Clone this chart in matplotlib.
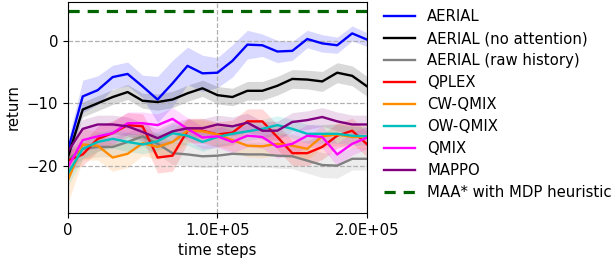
import numpy as np
import matplotlib
matplotlib.use("Agg")
import matplotlib.pyplot as plt
from matplotlib.ticker import FuncFormatter

steps = [i * 10000 for i in range(21)]

aerial = [-17.6, -8.9, -7.9, -5.8, -5.3, -7.3, -9.4, -6.8, -4.0, -5.2, -5.1,
          -3.2, -0.6, -0.7, -1.7, -1.6, 0.3, -0.4, -0.7, 1.2, 0.2]
aerial_sd = [1.5, 2.6, 2.3, 1.9, 1.9, 1.8, 3.7, 3.7, 3.0, 2.9, 2.4,
             2.6, 2.3, 1.8, 1.8, 1.5, 1.4, 1.4, 1.3, 1.2, 1.1]
noatt = [-18.7, -11.0, -10.0, -9.0, -8.2, -9.6, -9.8, -9.4, -8.4, -7.6, -8.7,
         -9.0, -8.0, -8.0, -7.2, -6.1, -6.2, -6.5, -5.1, -5.6, -7.3]
noatt_sd = [1.0, 1.2, 1.2, 1.2, 1.2, 1.2, 1.3, 1.3, 1.3, 1.3, 1.4,
            1.4, 1.5, 1.5, 1.5, 1.5, 1.5, 1.6, 1.6, 1.6, 1.6]
raw = [-19.0, -17.3, -17.0, -17.0, -16.2, -15.3, -16.5, -18.0, -18.2, -18.5, -18.4,
       -18.1, -18.2, -18.2, -18.4, -18.5, -19.2, -19.9, -20.0, -18.9, -18.9]
raw_sd = [1.5, 1.6, 1.6, 1.6, 1.6, 1.6, 1.7, 1.8, 1.8, 1.8, 1.8,
          1.8, 2.0, 2.0, 2.0, 2.0, 2.0, 2.0, 2.0, 1.8, 1.8]
qplex = [-19.2, -18.2, -15.7, -14.8, -13.5, -13.7, -18.7, -18.4, -14.4, -14.4, -15.0,
         -14.7, -12.9, -12.9, -15.4, -18.0, -18.0, -17.0, -15.2, -14.4, -16.6]
qplex_sd = [1.5, 1.8, 2.0, 2.0, 2.0, 2.0, 2.5, 2.5, 2.0, 2.0, 2.0,
            2.0, 2.0, 2.0, 2.0, 2.0, 2.0, 2.0, 2.0, 2.0, 2.0]
cwqmix = [-22.4, -16.6, -16.8, -18.7, -18.1, -16.4, -17.0, -16.2, -14.4, -14.5, -15.0,
          -15.9, -16.8, -16.9, -16.5, -16.8, -17.3, -15.3, -15.0, -15.4, -15.4]
cwqmix_sd = [3.6, 2.5, 2.3, 2.2, 2.2, 2.0, 2.0, 2.0, 1.8, 1.8, 1.8,
             1.8, 1.8, 1.8, 1.8, 1.8, 1.8, 1.8, 1.8, 1.8, 1.8]
owqmix = [-21.3, -17.3, -16.2, -15.7, -16.2, -16.6, -16.1, -14.8, -15.2, -16.2, -15.4,
          -14.9, -14.5, -14.1, -13.5, -14.1, -14.9, -14.9, -14.9, -15.2, -15.3]
owqmix_sd = [2.0, 1.6, 1.5, 1.5, 1.5, 1.5, 1.5, 1.5, 1.5, 1.5, 1.5,
             1.5, 1.5, 1.5, 1.5, 1.5, 1.5, 1.5, 1.5, 1.5, 1.5]
qmix = [-20.3, -15.9, -15.3, -14.8, -13.2, -13.2, -13.5, -12.5, -14.1, -15.5, -15.3,
        -16.2, -15.2, -15.4, -17.0, -16.5, -15.2, -15.4, -18.2, -16.5, -15.5]
qmix_sd = [2.0, 1.8, 1.8, 1.8, 1.8, 1.8, 1.8, 1.8, 1.8, 1.8, 1.8,
           1.8, 1.8, 1.8, 1.8, 1.8, 1.8, 1.8, 1.8, 1.8, 1.8]
mappo = [-17.8, -14.1, -13.4, -13.4, -13.7, -14.6, -15.6, -14.5, -14.0, -14.0, -13.4,
         -13.7, -13.1, -14.4, -14.4, -13.0, -12.7, -12.2, -12.9, -13.4, -13.4]
mappo_sd = [1.5, 1.5, 1.5, 1.5, 1.5, 1.5, 1.5, 1.5, 1.5, 1.5, 1.5,
            1.5, 1.5, 1.5, 1.5, 1.5, 1.5, 1.5, 1.5, 1.5, 1.5]
maa_star = 4.84

series = [
    ("AERIAL", aerial, aerial_sd, "blue"),
    ("AERIAL (no attention)", noatt, noatt_sd, "black"),
    ("AERIAL (raw history)", raw, raw_sd, "gray"),
    ("QPLEX", qplex, qplex_sd, "red"),
    ("CW-QMIX", cwqmix, cwqmix_sd, "darkorange"),
    ("OW-QMIX", owqmix, owqmix_sd, "c"),
    ("QMIX", qmix, qmix_sd, "magenta"),
    ("MAPPO", mappo, mappo_sd, "purple"),
]

FS = 10.7
fig = plt.figure(figsize=(6.16, 2.65), dpi=100)
ax = fig.add_axes([0.110, 0.196, 0.486, 0.798])

x = np.array(steps)
for label, m, s, c in series:
    m = np.array(m); s = np.array(s)
    ax.fill_between(x, m - s, m + s, color=c, alpha=0.15, linewidth=0)
    ax.plot(x, m, color=c, lw=1.7, label=label)
ax.axhline(maa_star, color="darkgreen", lw=2.3, ls=(0, (3.5, 2.5)),
           label="MAA* with MDP heuristic")

ax.set_xlim(0, 200000)
ax.set_ylim(-27.6, 6.3)
ax.set_xticks([0, 100000, 200000])
ax.xaxis.set_major_formatter(FuncFormatter(lambda v, p: "0" if v == 0 else "%.1E" % v))
ax.set_yticks([0, -10, -20])
ax.grid(True, ls="--", color="#b0b0b0", lw=0.9)
ax.set_xlabel("time steps", fontsize=FS, labelpad=4)
ax.set_ylabel("return", fontsize=FS)
ax.tick_params(labelsize=FS)

ax.legend(loc="upper left", bbox_to_anchor=(1.02, 1.012), frameon=False,
          fontsize=FS, handlelength=2.15, labelspacing=0.47, borderaxespad=0.3)

fig.savefig("out.png", dpi=100)
